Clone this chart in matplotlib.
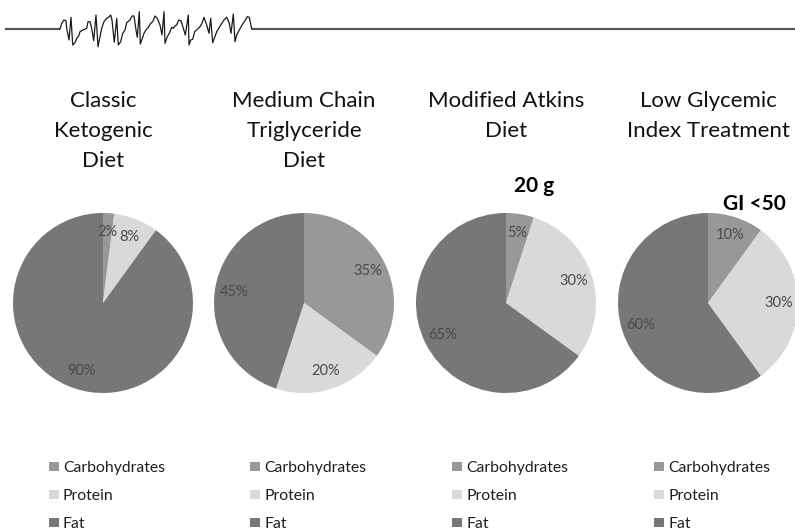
import matplotlib.pyplot as plt

plt.rcParams['font.family'] = ['Lato', 'DejaVu Sans']

W, H = 795, 530

# Diets and their macronutrient split (% of energy)
diets = ['Classic\nKetogenic\nDiet',
         'Medium Chain\nTriglyceride\nDiet',
         'Modified Atkins\nDiet',
         'Low Glycemic\nIndex Treatment']
nutrients = ['Carbohydrates', 'Protein', 'Fat']
carbs = [2, 35, 5, 10]
protein = [8, 20, 30, 30]
fat = [90, 45, 65, 60]
notes = ['', '', '20 g', 'GI <50']

colors = ['#989898', '#d9d9d9', '#777777']

# EEG-like trace across the top (pixel coordinates)
eeg_trace = [
    (60, 29), (61.7, 23.3), (64, 20), (66, 20.7), (66.7, 28.3), (69, 40),
    (71, 17.3), (72.7, 45), (75, 42.7), (76.7, 38.3), (78.7, 36), (80, 31.7),
    (82.7, 30), (85, 29.3), (86.7, 28.3), (88, 21.7), (90, 21.7), (91.7, 28.3),
    (93.7, 40.7), (96, 15), (98, 46.7), (100, 36.7), (101.7, 28.3), (104, 21.7),
    (106.7, 18.3), (109.3, 16.7), (110.7, 15), (112, 20), (114.3, 42.3),
    (116.7, 18.3), (118.3, 45), (120.7, 41.7), (122.7, 33.3), (125, 30),
    (126.7, 22.7), (130, 20), (132, 16), (134, 16), (136, 30), (137.3, 37.3),
    (139.3, 11.7), (140.3, 44), (142.7, 37.3), (144, 33.3), (146, 30),
    (148.3, 27.3), (150.7, 23.3), (152.7, 21.7), (155, 16), (157.3, 18.3),
    (160, 25), (162, 35), (164, 11.7), (165, 43.3), (167.3, 36.7), (169.3, 33.3),
    (171.7, 27.3), (173.3, 28.3), (175, 26), (176.7, 25), (178.7, 20),
    (181, 20.7), (183.3, 28.3), (185.3, 35), (188.3, 15), (189, 45),
    (190.7, 40), (192.7, 39.3), (194.7, 31.7), (197.3, 29.3), (200, 26.7),
    (202, 23.3), (204, 17.3), (206.7, 25), (209, 33.3), (210.7, 18.3),
    (212.7, 42.7), (214.7, 37.3), (216.7, 31.7), (218.7, 28.3), (221.3, 24),
    (224, 20), (226.7, 17.3), (229.3, 23.3), (231, 33.3), (233.3, 14),
    (235, 41.7), (236.7, 35), (239.3, 30), (242, 25), (245, 20.7),
    (247.3, 16.7), (249.3, 17.3), (251.7, 29),
]
eeg_x = [p[0] for p in eeg_trace]
eeg_y = [p[1] for p in eeg_trace]

centers_x = [103, 304, 506, 708]
center_y = 303
radius = 90

fig = plt.figure(figsize=(W / 100, H / 100), dpi=100)
bg = fig.add_axes([0, 0, 1, 1])
bg.set_xlim(0, W)
bg.set_ylim(H, 0)
bg.axis('off')

# flat baseline either side of the burst
bg.plot([5, eeg_x[0]], [eeg_y[0], eeg_y[0]], color='#555555', lw=1.6, solid_capstyle='butt')
bg.plot([eeg_x[-1], W], [eeg_y[-1], eeg_y[-1]], color='#555555', lw=1.6, solid_capstyle='butt')
bg.plot(eeg_x, eeg_y, color='#1a1a1a', lw=0.9)

for i, name in enumerate(diets):
    cx = centers_x[i]
    # title, one line at a time
    for j, line in enumerate(name.split('\n')):
        bg.text(cx, 107 + 30 * j, line, ha='center', va='baseline',
                fontsize=16, color='#111111')

    ax = fig.add_axes([(cx - radius) / W, (H - center_y - radius) / H,
                       2 * radius / W, 2 * radius / H])
    vals = [carbs[i], protein[i], fat[i]]
    ax.pie(vals, colors=colors, startangle=90, counterclock=False,
           radius=1, autopct=lambda p: '%d%%' % round(p), pctdistance=0.79,
           wedgeprops=dict(linewidth=0),
           textprops=dict(fontsize=10.5, color='#4a4a4a'))
    ax.set_xlim(-1, 1)
    ax.set_ylim(-1, 1)
    ax.set_aspect('equal')

    # legend
    lx = centers_x[i] - 49
    for k, nut in enumerate(nutrients):
        yy = 466.5 + 28 * k
        bg.add_patch(plt.Rectangle((lx - 5, yy - 4.5), 10, 9, color=colors[k], lw=0))
        bg.text(lx + 9, yy + 5.5, nut, ha='left', va='baseline',
                fontsize=11.3, color='#1e1e1e')

bg.text(534, 192, notes[2], ha='center', va='baseline', fontsize=15,
        fontweight='bold', color='black')
bg.text(754, 210, notes[3], ha='center', va='baseline', fontsize=15,
        fontweight='bold', color='black')

fig.savefig('out.png', dpi=100)
